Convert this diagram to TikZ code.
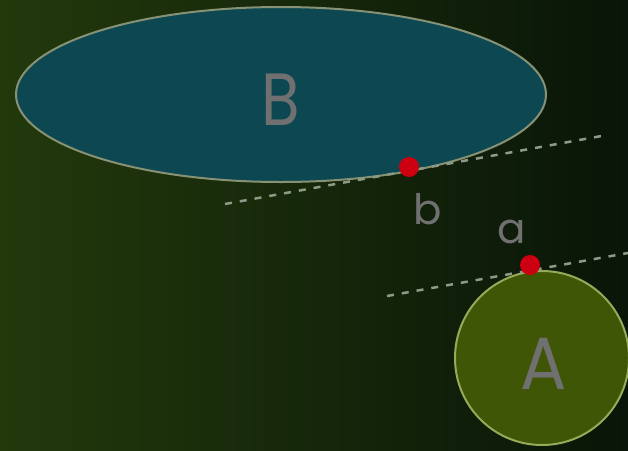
\documentclass[tikz,border=0pt]{standalone}
\usepackage{fontspec}
\setmainfont{Poppins}
\usetikzlibrary{shapes.geometric,shadings}
\definecolor{bgL}{RGB}{34,57,12}
\definecolor{bgM}{RGB}{14,31,10}
\definecolor{bgR}{RGB}{9,21,8}
\definecolor{tealfill}{RGB}{13,72,82}
\definecolor{tealedge}{RGB}{135,145,115}
\definecolor{olivefill}{RGB}{62,86,6}
\definecolor{oliveedge}{RGB}{150,170,90}
\definecolor{txtgray}{RGB}{112,112,112}
\definecolor{dashgray}{RGB}{140,155,135}
\definecolor{dotred}{RGB}{204,0,16}
\tikzset{
  tangentline/.style={draw=dashgray, line width=2.5pt, dash pattern=on 7pt off 8pt},
  reddot/.style={circle, fill=dotred, minimum size=20pt, inner sep=0pt},
  biglabel/.style={text=txtgray, font=\fontsize{74}{76}\selectfont, anchor=base, inner sep=0pt},
  smalllabel/.style={text=txtgray, font=\fontsize{42}{44}\selectfont, anchor=base, inner sep=0pt}
}
\begin{document}
\begin{tikzpicture}[x=1pt,y=-1pt]
\useasboundingbox (0,0) rectangle (628,450);
\shade[left color=bgL, middle color=bgM, right color=bgR] (0,0) rectangle (628,450);
% ellipse B
\node[ellipse, draw=tealedge, line width=2pt, fill=tealfill, minimum width=530pt, minimum height=175pt, inner sep=0pt] (B) at (281,94.5) {};
\node[biglabel] (Blabel) at (281,125) {\scalebox{0.85}[1]{B}};
% circle A
\node[circle, draw=oliveedge, line width=2pt, fill=olivefill, minimum size=174pt, inner sep=0pt] (A) at (542,358) {};
\node[biglabel] (Alabel) at (544,389) {\scalebox{0.93}[1]{A}};
% tangent lines
\coordinate (b1) at (225,204);
\coordinate (b2) at (607,135);
\coordinate (a1) at (387,296);
\coordinate (a2) at (628,253);
\draw[tangentline] (b1) -- (b2);
\draw[tangentline] (a1) -- (a2);
% points
\node[reddot] (pb) at (409,167) {};
\node[reddot] (pa) at (530,265) {};
\node[smalllabel] (lb) at (427.5,224) {b};
\node[smalllabel] (la) at (512,243) {a};
\end{tikzpicture}
\end{document}
